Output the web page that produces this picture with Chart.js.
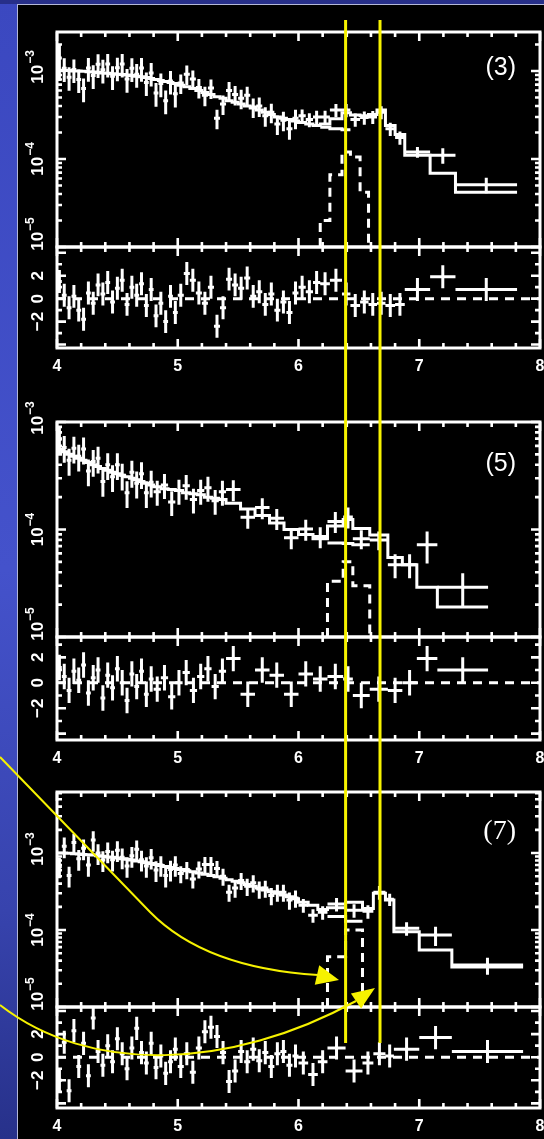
<!DOCTYPE html>
<html>
<head>
<meta charset="utf-8">
<script src="https://cdn.jsdelivr.net/npm/chart.js@4.4.1/dist/chart.umd.min.js"></script>
<style>
  html, body { margin: 0; padding: 0; width: 544px; height: 1139px; overflow: hidden; }
  body { position: relative; background: linear-gradient(180deg, #3b48c0 0%, #4452cb 50%, #3743ad 80%, #27318a 100%); }
  #band { position: absolute; left: 0; top: 0; width: 544px; height: 4px; background: #272f89; }
  #plate { position: absolute; left: 17px; top: 4px; width: 560px; height: 1160px; background: #000;
           border-left: 1px solid #b4b8d8; border-top: 1px solid #b4b8d8; }
  canvas { position: absolute; left: 0; }
</style>
</head>
<body>
<div id="band"></div>
<div id="plate"></div>
<canvas id="m1" width="560" height="260"></canvas>
<canvas id="r1" width="560" height="153"></canvas>
<canvas id="m2" width="560" height="260"></canvas>
<canvas id="r2" width="560" height="155"></canvas>
<canvas id="m3" width="560" height="260"></canvas>
<canvas id="r3" width="560" height="153"></canvas>
<canvas id="ov" width="544" height="1139"></canvas>
<script>
// energy axis (keV) and tick labels
const X_TICKS = [4, 5, 6, 7, 8];
const DECADES = [0.1, 1, 10];            // flux axis, units of 1e-4
const DECADE_EXP = ['\u22125', '\u22124', '\u22123'];
const RES_TICKS = [-2, 0, 2];
const RES_SIGMA = 1;                     // residuals in units of sigma
const FE_LINES = [6.39, 6.675];          // keV, yellow markers

// ---- spectrum (3) ----
const E1 = [4.00,4.04,4.08,4.12,4.16,4.20,4.24,4.28,4.32,4.36,4.40,4.44,4.48,4.52,4.56,4.60,4.64,4.68,4.72,4.76,4.80,4.84,4.88,4.92,4.96,5.00,
            5.05,5.10,5.15,5.20,5.25,5.30,5.35,5.40,5.45,5.50,5.55,5.60,5.65,5.70,5.75,5.80,5.85,5.90,5.95,6.00,
            6.06,6.12,6.18,6.26,6.36,6.43,6.51,6.58,6.65,6.72,6.80,6.88,7.09,7.30,7.81];
const F1 = [14.0,10.7,8.5,10.4,8.0,6.3,10.8,8.9,11.9,10.3,12.0,8.7,10.9,12.0,8.1,10.7,9.2,10.8,7.4,9.5,5.6,7.2,4.6,7.7,5.5,
            7.3,9.2,8.1,6.5,5.3,6.4,2.9,4.2,6.0,5.4,4.9,5.3,3.9,4.0,3.1,3.4,2.5,2.75,2.2,2.9,
            3.1,2.8,3.0,3.0,3.6,3.6,2.8,2.95,3.0,3.4,2.2,1.75,1.2,1.1,0.51];
const EF1 = [0.45,0.3,0.3,0.3,0.3,0.3,0.3,0.3,0.3,0.3,0.3,0.3,0.3,0.3,0.3,0.3,0.3,0.3,0.3,0.3,0.3,0.3,0.3,0.3,0.3,
             0.25,0.25,0.25,0.25,0.25,0.25,0.25,0.25,0.25,0.25,0.25,0.25,0.25,0.25,0.25,0.25,0.25,0.25,0.25,0.25,
             0.18,0.18,0.18,0.18,0.17,0.17,0.17,0.17,0.17,0.17,0.17,0.17,0.14,0.2,0.2];
const M1 = [10.2,10.1,10.1,10.0,10.0,9.9,9.8,9.7,9.6,9.5,9.4,9.3,9.2,9.1,9.0,8.9,8.7,8.6,8.4,8.2,8.0,7.8,7.6,7.4,7.2,
            6.9,6.6,6.3,6.0,5.7,5.4,5.1,4.9,4.6,4.4,4.2,4.0,3.8,3.6,3.4,3.2,3.0,2.9,2.8,2.7,
            2.6,2.5,2.4,2.5,2.86,3.35,3.15,3.1,3.2,3.6,2.4,1.9,1.1,0.69,0.42];
const R1 = [1.5,0.3,-0.8,0.2,-1.0,-1.8,0.5,-0.4,1.2,0.4,1.4,-0.3,0.9,1.6,-0.5,1.0,0.3,1.3,-0.6,0.8,-1.5,-0.4,-2.0,0.2,-1.2,
            0.3,2.2,1.6,0.5,-0.4,1.0,-2.4,-0.8,1.7,1.2,0.9,1.8,0.2,0.6,-0.5,0.4,-1.0,-0.3,-1.2,0.5,
            1.0,0.6,1.4,1.3,1.6,0.4,-0.6,-0.3,-0.5,-0.4,-0.6,-0.5,0.8,1.9,0.8];
const G1_EDGES = [6.18,6.26,6.36,6.43,6.51,6.58];
const G1 = [0.20,0.66,1.2,1.05,0.42];
const C1_EDGES = [6.18,6.26,6.36,6.43];
const C1 = [2.3,2.2,2.15];

// ---- spectrum (5) ----
const E2 = [4.00,4.04,4.08,4.12,4.16,4.20,4.24,4.28,4.32,4.36,4.40,4.44,4.48,4.52,4.56,4.60,4.64,4.68,4.72,4.76,4.80,
            4.86,4.92,4.98,5.04,5.10,5.16,5.22,5.28,5.34,5.40,
            5.52,5.64,5.76,5.88,6.00,6.12,6.24,6.37,6.45,6.59,6.74,6.86,6.98,7.15,7.57];
const F2 = [6.9,5.8,4.4,5.7,4.8,5.6,3.5,4.3,4.6,2.8,4.0,3.1,4.0,3.2,2.2,3.4,2.7,3.3,2.2,2.75,
            2.25,2.6,1.8,2.3,2.55,1.9,2.3,2.45,1.85,2.25,
            2.35,1.30,1.6,1.27,0.84,1.01,0.86,1.19,1.31,0.82,0.80,0.47,0.47,0.72,0.29];
const EF2 = [0.28,0.28,0.28,0.28,0.28,0.28,0.28,0.28,0.28,0.28,0.28,0.28,0.28,0.28,0.28,0.28,0.28,0.28,0.28,0.28,
             0.26,0.26,0.26,0.26,0.26,0.26,0.26,0.26,0.26,0.26,
             0.22,0.22,0.22,0.22,0.22,0.22,0.22,0.22,0.22,0.2,0.2,0.25,0.25,0.33,0.35];
const M2 = [5.6,5.3,5.0,4.8,4.6,4.4,4.2,4.0,3.85,3.7,3.55,3.4,3.3,3.2,3.1,3.0,2.9,2.8,2.7,2.6,
            2.5,2.4,2.35,2.3,2.2,2.15,2.1,2.0,1.95,1.9,
            1.75,1.55,1.35,1.15,1.0,0.9,0.82,1.08,1.24,1.02,0.89,0.55,0.47,0.29,0.19];
const R2 = [1.2,0.5,-0.6,0.9,0.2,1.4,-0.8,0.4,1.0,-1.2,0.6,-0.4,1.1,0.0,-1.4,0.7,-0.3,0.9,-0.9,0.3,
            -0.5,0.4,-1.1,0.0,0.8,-0.6,0.5,1.1,-0.3,0.9,
            1.9,-0.9,1.0,0.6,-0.9,0.7,0.3,0.5,0.3,-1.0,-0.5,-0.6,0.0,1.9,1.0];
const G2_EDGES = [6.24,6.37,6.45,6.59];
const G2 = [0.33,0.5,0.30];
const C2_EDGES = [6.24,6.37,6.45,6.59];
const C2 = [0.75,0.74,0.72];

// ---- spectrum (7) ----
const E3 = [4.00,4.04,4.08,4.12,4.16,4.20,4.24,4.28,4.32,4.36,4.40,4.44,4.48,4.52,4.56,4.60,4.64,4.68,4.72,4.76,4.80,4.84,4.88,4.92,4.96,5.00,
            5.05,5.10,5.15,5.20,5.25,5.30,5.35,5.40,5.45,5.50,5.55,5.60,5.65,5.70,5.75,5.80,5.85,5.90,5.95,6.00,
            6.08,6.16,6.24,6.39,6.53,6.62,6.72,6.79,7.00,7.27,7.86];
const F3 = [6.7,12.2,5.1,13.7,8.4,11.5,7.0,14.8,10.0,8.1,10.5,8.2,10.9,8.8,6.8,9.2,11.2,8.2,6.8,8.7,6.0,7.0,5.1,6.1,7.0,
            5.4,6.1,4.6,6.2,7.1,7.1,6.3,5.0,3.1,3.5,4.4,3.7,4.1,3.4,3.5,2.8,3.1,3.1,2.45,2.6,
            2.1,1.55,1.7,2.17,1.8,1.75,3.1,2.5,1.05,0.86,0.35];
const EF3 = [0.3,0.3,0.3,0.3,0.3,0.3,0.3,0.3,0.3,0.3,0.3,0.3,0.3,0.3,0.3,0.3,0.3,0.3,0.3,0.3,0.3,0.3,0.3,0.3,0.3,
             0.25,0.25,0.25,0.25,0.25,0.25,0.25,0.25,0.25,0.25,0.25,0.25,0.25,0.25,0.25,0.25,0.25,0.25,0.25,0.25,
             0.2,0.2,0.2,0.2,0.2,0.2,0.2,0.18,0.2,0.28,0.25];
const M3 = [10.0,10.0,9.9,9.8,9.7,9.6,9.5,9.4,9.2,9.1,8.9,8.8,8.6,8.4,8.3,8.1,7.9,7.7,7.5,7.3,7.1,6.9,6.7,6.5,6.3,
            6.1,5.9,5.7,5.5,5.3,5.1,4.9,4.7,4.5,4.3,4.1,3.9,3.7,3.5,3.3,3.15,3.0,2.85,2.7,2.55,
            2.3,2.1,1.85,1.95,2.3,1.9,3.0,2.45,0.95,0.55,0.33];
const R3 = [-2.0,1.3,-2.9,2.3,-0.8,1.2,-1.6,3.4,0.5,-0.7,1.0,-0.4,1.6,0.3,-1.0,0.8,2.5,0.4,-0.5,1.2,-0.9,0.1,-1.4,-0.4,0.7,
            -0.8,0.3,-1.3,0.8,2.2,2.6,1.8,0.4,-2.1,-1.2,0.5,-0.4,0.7,-0.3,0.4,-0.8,0.3,0.5,-0.7,0.1,
            -0.5,-1.5,-0.4,0.8,-1.2,-0.5,0.3,0.1,0.7,1.7,0.5];
const G3_EDGES = [6.24,6.39,6.53];
const G3 = [0.45,1.0];
const C3_EDGES = [6.24,6.39,6.53];
const C3 = [1.5,1.3];

// layout of the three panels (page pixels)
const PANELS = [
  { id: 1, top: 32,  mid: 247,  bot: 348,  ymax: 27.7, rmin: -4.3, rmax: 4.5, label: '(3)', lfont: '25px "Liberation Sans", Arial, sans-serif', ly: 36,
    E: E1, F: F1, EF: EF1, M: M1, R: R1, GE: G1_EDGES, G: G1, CE: C1_EDGES, C: C1 },
  { id: 2, top: 422, mid: 637,  bot: 740,  ymax: 10,   rmin: -4.5, rmax: 3.6, label: '(5)', lfont: '25px "Liberation Sans", Arial, sans-serif', ly: 42,
    E: E2, F: F2, EF: EF2, M: M2, R: R2, GE: G2_EDGES, G: G2, CE: C2_EDGES, C: C2 },
  { id: 3, top: 792, mid: 1007, bot: 1108, ymax: 62,   rmin: -4.4, rmax: 4.35, label: '(7)', lfont: '28px "Liberation Serif", "Times New Roman", serif', ly: 40,
    E: E3, F: F3, EF: EF3, M: M3, R: R3, GE: G3_EDGES, G: G3, CE: C3_EDGES, C: C3 }
];

const PAD = 12, PAD_TOP = 30;
const LW = 3;
const WHITE = '#ffffff';
const BOLD = 'bold 16px "Liberation Sans", Arial, sans-serif';
const BOLD_Y = 'bold 17px "Liberation Sans", Arial, sans-serif';
const BOLD_SUP = 'bold 12px "Liberation Sans", Arial, sans-serif';

function stepPts(edges, vals) {
  const pts = [];
  vals.forEach((v, i) => { pts.push({ x: edges[i], y: v }, { x: edges[i + 1], y: v }); });
  return pts;
}
function pulsePts(edges, vals, floor) {
  return [{ x: edges[0], y: floor }, ...stepPts(edges, vals), { x: edges[edges.length - 1], y: floor }];
}
function crossPts(edges, vals, rel) {
  return vals.map((v, i) => ({
    x: (edges[i] + edges[i + 1]) / 2, xMin: edges[i], xMax: edges[i + 1],
    y: v, yMin: v * (1 - rel[i]), yMax: v * (1 + rel[i])
  }));
}
function resPts(edges, vals) {
  return vals.map((v, i) => ({
    x: (edges[i] + edges[i + 1]) / 2, xMin: edges[i], xMax: edges[i + 1],
    y: v, yMin: v - RES_SIGMA, yMax: v + RES_SIGMA
  }));
}

function rotLabel(ctx, cx, cy, base, exp) {
  ctx.save();
  ctx.translate(cx, cy);
  ctx.rotate(-Math.PI / 2);
  ctx.fillStyle = WHITE;
  ctx.textBaseline = 'middle';
  ctx.textAlign = 'left';
  ctx.font = BOLD_Y;
  const w1 = ctx.measureText(base).width;
  ctx.font = BOLD_SUP;
  const w2 = exp ? ctx.measureText(exp).width + 1 : 0;
  const sx = -(w1 + w2) / 2;
  ctx.font = BOLD_Y;
  ctx.fillText(base, sx, 0);
  if (exp) { ctx.font = BOLD_SUP; ctx.fillText(exp, sx + w1 + 1, -7); }
  ctx.restore();
}

// error-bar crosses
const crossPlugin = {
  id: 'crosses',
  afterDatasetsDraw(chart) {
    const { ctx, chartArea: a, scales: { x, y } } = chart;
    ctx.save();
    ctx.beginPath();
    ctx.rect(a.left, a.top, a.right - a.left, a.bottom - a.top);
    ctx.clip();
    ctx.strokeStyle = WHITE;
    ctx.lineWidth = LW;
    chart.data.datasets.forEach(ds => {
      if (!ds.crosses) return;
      ctx.beginPath();
      ds.data.forEach(p => {
        const px = x.getPixelForValue(p.x), py = y.getPixelForValue(p.y);
        ctx.moveTo(x.getPixelForValue(p.xMin), py);
        ctx.lineTo(x.getPixelForValue(p.xMax), py);
        ctx.moveTo(px, y.getPixelForValue(p.yMin));
        ctx.lineTo(px, y.getPixelForValue(p.yMax));
      });
      ctx.stroke();
    });
    ctx.restore();
  }
};

// frame, inward ticks and rotated labels
const framePlugin = {
  id: 'frame',
  afterDraw(chart, args, o) {
    const { ctx, chartArea: a, scales: { x, y } } = chart;
    const tick = (x1, y1, x2, y2) => { ctx.moveTo(x1, y1); ctx.lineTo(x2, y2); };
    ctx.save();
    ctx.strokeStyle = WHITE;
    ctx.lineWidth = 3;
    ctx.strokeRect(a.left, a.top, a.right - a.left, a.bottom - a.top);
    ctx.lineWidth = 2.6;
    ctx.beginPath();
    for (let i = 0; i <= 20; i++) {
      const px = x.getPixelForValue(4 + i * 0.2);
      const len = i % 5 === 0 ? 9 : 5;
      tick(px, a.top, px, a.top + len);
      tick(px, a.bottom, px, a.bottom - len);
    }
    if (o.kind === 'main') {
      DECADES.forEach(d => {
        for (let k = 1; k <= 9; k++) {
          const v = d * k;
          if (v < y.min || v > y.max) continue;
          const py = y.getPixelForValue(v);
          const len = k === 1 ? 9 : 5;
          tick(a.left, py, a.left + len, py);
          tick(a.right, py, a.right - len, py);
        }
      });
    } else {
      for (let v = Math.ceil(y.min); v <= Math.floor(y.max); v++) {
        const py = y.getPixelForValue(v);
        const len = v % 2 === 0 ? 9 : 5;
        tick(a.left, py, a.left + len, py);
        tick(a.right, py, a.right - len, py);
      }
    }
    ctx.stroke();

    if (o.kind === 'main') {
      DECADES.forEach((d, i) => {
        let py = y.getPixelForValue(d);
        if (i === 0) py -= 13;
        if (i === DECADES.length - 1) py -= 4;
        rotLabel(ctx, 38, py, '10', DECADE_EXP[i]);
      });
      ctx.fillStyle = WHITE;
      ctx.font = o.lfont;
      ctx.textAlign = 'right';
      ctx.textBaseline = 'middle';
      ctx.fillText(o.label, a.right - 24, a.top + o.ly);
    } else {
      RES_TICKS.forEach(v => {
        rotLabel(ctx, 38, y.getPixelForValue(v), v < 0 ? '\u2212' + Math.abs(v) : String(v), '');
      });
      ctx.fillStyle = WHITE;
      ctx.font = BOLD;
      ctx.textAlign = 'center';
      ctx.textBaseline = 'middle';
      X_TICKS.forEach(t => ctx.fillText(String(t), x.getPixelForValue(t), a.bottom + 19));
    }
    ctx.restore();
  }
};

function baseOptions(yScale, frameOpts, topPad, bottomPad) {
  return {
    responsive: false,
    animation: false,
    events: [],
    layout: { padding: { left: 57, right: 20, top: topPad, bottom: bottomPad } },
    scales: { x: { type: 'linear', min: 4, max: 8, display: false }, y: yScale },
    plugins: { legend: { display: false }, tooltip: { enabled: false }, frame: frameOpts }
  };
}

const charts = [];
PANELS.forEach(p => {
  const mc = document.getElementById('m' + p.id);
  mc.style.top = (p.top - PAD_TOP) + 'px';
  mc.height = p.mid - p.top + PAD_TOP + PAD;
  charts.push(new Chart(mc, {
    type: 'line',
    data: {
      datasets: [
        { data: stepPts(p.E, p.M), borderColor: WHITE, borderWidth: LW, pointRadius: 0, tension: 0 },
        { data: stepPts(p.CE, p.C), borderColor: WHITE, borderWidth: LW, pointRadius: 0, tension: 0 },
        { data: pulsePts(p.GE, p.G, 0.1), borderColor: WHITE, borderWidth: LW, borderDash: [9, 6], pointRadius: 0, tension: 0 },
        { type: 'scatter', crosses: true, data: crossPts(p.E, p.F, p.EF), pointRadius: 0, showLine: false }
      ]
    },
    options: baseOptions({ type: 'logarithmic', min: 0.1, max: p.ymax, display: false },
      { kind: 'main', label: p.label, lfont: p.lfont, ly: p.ly }, PAD_TOP, PAD),
    plugins: [crossPlugin, framePlugin]
  }));

  const rc = document.getElementById('r' + p.id);
  rc.style.top = (p.mid - PAD) + 'px';
  rc.height = p.bot - p.mid + PAD + 40;
  new Chart(rc, {
    type: 'line',
    data: {
      datasets: [
        { data: [{ x: 4, y: 0 }, { x: 8, y: 0 }], borderColor: WHITE, borderWidth: LW, borderDash: [9, 7], pointRadius: 0 },
        { type: 'scatter', crosses: true, data: resPts(p.E, p.R), pointRadius: 0, showLine: false }
      ]
    },
    options: baseOptions({ type: 'linear', min: p.rmin, max: p.rmax, display: false }, { kind: 'res' }, PAD, 40),
    plugins: [crossPlugin, framePlugin]
  });
});

// yellow annotation overlay
const ov = document.getElementById('ov');
ov.style.top = '0px';
const g = ov.getContext('2d');
const YEL = '#f6f200';
g.fillStyle = YEL;
FE_LINES.forEach(e => {
  const px = charts[0].scales.x.getPixelForValue(e);
  g.fillRect(px - 1.5, 20, 3, 1023);
});

function arrowHead(bx, by, tx, ty, half) {
  const dx = tx - bx, dy = ty - by, L = Math.hypot(dx, dy);
  const nx = -dy / L * half, ny = dx / L * half;
  g.beginPath();
  g.moveTo(tx, ty);
  g.lineTo(bx + nx, by + ny);
  g.lineTo(bx - nx, by - ny);
  g.closePath();
  g.fill();
}
g.strokeStyle = YEL;
g.lineWidth = 2;
g.beginPath();
g.moveTo(0, 757);
g.lineTo(150, 912);
g.quadraticCurveTo(205, 968, 318, 975);
g.stroke();
arrowHead(317, 975, 339, 980, 10);

g.beginPath();
g.moveTo(0, 1005);
g.bezierCurveTo(90, 1075, 230, 1070, 356, 1001);
g.stroke();
arrowHead(356, 1001, 375, 988, 9);
</script>
</body>
</html>
